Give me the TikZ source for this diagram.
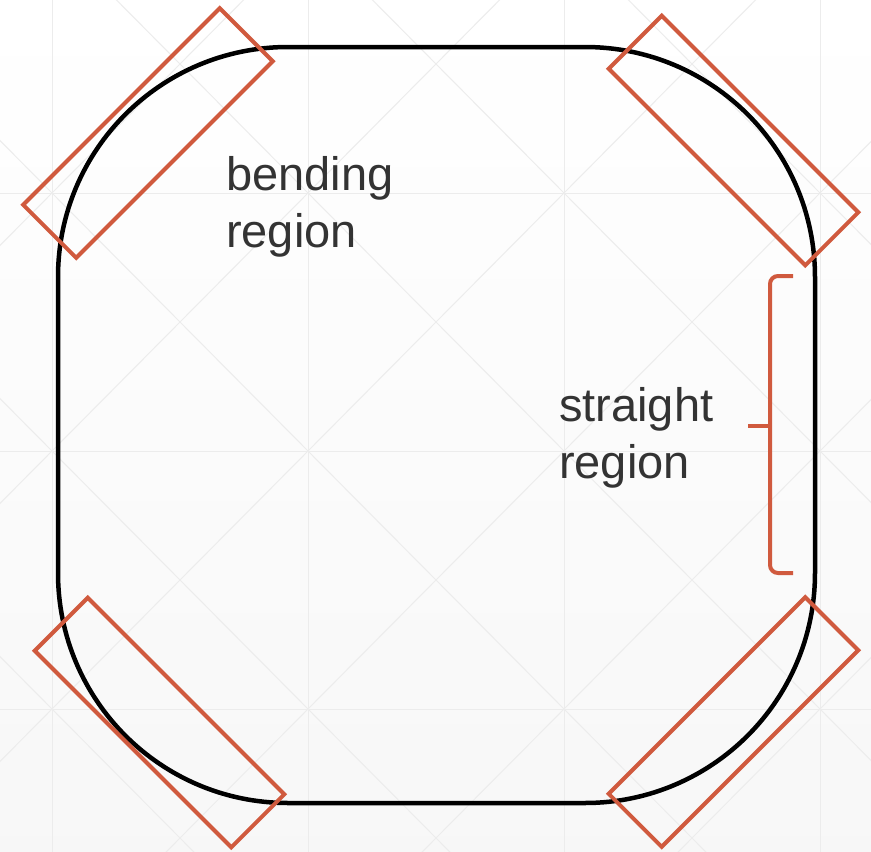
\documentclass[tikz,border=0pt]{standalone}
\usepackage{fontspec}
\setmainfont{Liberation Sans}
\definecolor{accent}{RGB}{208,90,62}
\definecolor{txt}{RGB}{51,51,51}
\definecolor{gridc}{RGB}{236,236,236}
\begin{document}
\begin{tikzpicture}[x=1pt,y=-1pt,
  gridline/.style={draw=gridc,line width=1pt},
  band/.style={draw=accent,line width=4pt,rectangle,inner sep=0pt,minimum width=278pt,minimum height=75pt},
  track/.style={draw=black,line width=4.5pt,rectangle,rounded corners=230pt,inner sep=0pt,minimum width=757pt,minimum height=756pt},
  label/.style={text=txt,font=\fontsize{47}{57}\selectfont,align=left,inner sep=0pt,anchor=base west}]
\useasboundingbox (0,0) rectangle (871,852);
\shade[top color=white,bottom color=black!3] (0,0) rectangle (871,852);
\begin{scope}
\clip (0,0) rectangle (871,852);
\foreach \xx in {52,308,564,820} \draw[gridline] (\xx,-10) -- (\xx,862);
\foreach \yy in {193,451,709} \draw[gridline] (-10,\yy) -- (881,\yy);
\foreach \i in {-1,0,1,2,3,4} {
  \foreach \j in {-1,0,1,2,3} {
    \pgfmathsetmacro{\xa}{52+256*\i}
    \pgfmathsetmacro{\xb}{52+256*(\i+1)}
    \pgfmathsetmacro{\ya}{193+258*\j}
    \pgfmathsetmacro{\yb}{193+258*(\j+1)}
    \draw[gridline] (\xa,\ya) -- (\xb,\yb);
    \draw[gridline] (\xa,\yb) -- (\xb,\ya);
  }
}
\end{scope}
\node[track] (tr) at (436.5,425) {};
\node[band,rotate=45] (tl) at (148,133) {};
\node[band,rotate=-45] (trb) at (733.5,140.5) {};
\node[band,rotate=-45] (bl) at (159.5,722.5) {};
\node[band,rotate=45] (br) at (733.5,722) {};
\coordinate (bt) at (793,276);
\coordinate (bb) at (793,573);
\coordinate (bm) at (770,426);
\coordinate (tip) at (748,426);
\draw[accent,line width=4pt,rounded corners=8pt] (bt) -- (770,276) -- (770,573) -- (bb);
\draw[accent,line width=4pt] (bm) -- (tip);
\node[label] (bend) at (226,247) {bending\\region};
\node[label] (str) at (559,478) {straight\\region};
\end{tikzpicture}
\end{document}
